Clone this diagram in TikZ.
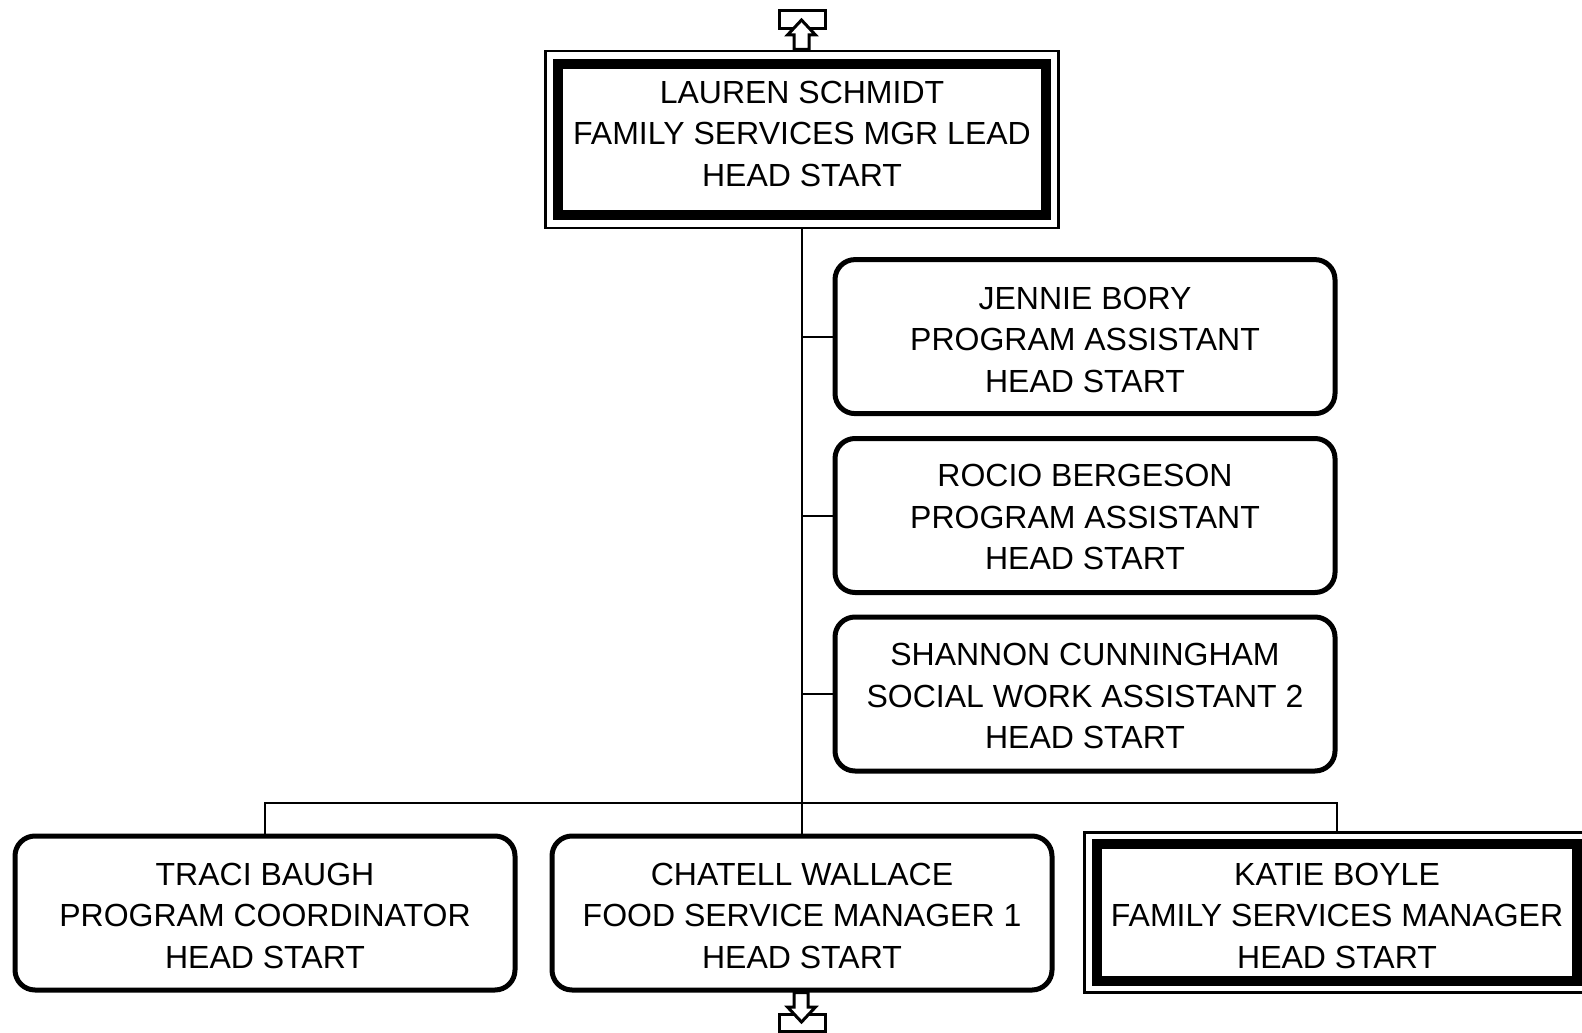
\documentclass[tikz,border=0pt]{standalone}
\usepackage{fontspec}
\setmainfont{Liberation Sans}
\begin{document}
\begin{tikzpicture}[x=1pt,y=-1pt,
  every node/.style={inner sep=0pt, outer sep=0pt},
  txt/.style={font=\fontsize{32}{41.5}\selectfont, align=center},
  person/.style={draw, line width=5pt, rounded corners=20pt, minimum width=500pt, minimum height=154pt},
  leadin/.style={draw, line width=10pt},
  leadout/.style={draw, line width=2.8pt},
  conn/.style={line width=2pt},
  deco/.style={line width=3pt, fill=white, line join=miter}
]
\useasboundingbox (0,0) rectangle (1582,1033);

% top double box
\node[leadout, minimum width=512.5pt, minimum height=177pt] (laurenO) at (802,139.5) {};
\node[leadin, minimum width=487.5pt, minimum height=150.5pt] (lauren) at (802,139.5) {};
\node[txt] (laurenT) at (802,133.7) {LAUREN SCHMIDT\\FAMILY SERVICES MGR LEAD\\HEAD START};

% assistants
\node[person] (jennie) at (1085,336.6) {};
\node[txt] (jennieT) at (1085,339.5) {JENNIE BORY\\PROGRAM ASSISTANT\\HEAD START};
\node[person] (rocio) at (1085,515.5) {};
\node[txt] (rocioT) at (1085,517) {ROCIO BERGESON\\PROGRAM ASSISTANT\\HEAD START};
\node[person] (shannon) at (1085,694) {};
\node[txt] (shannonT) at (1085,696) {SHANNON CUNNINGHAM\\SOCIAL WORK ASSISTANT 2\\HEAD START};

% bottom row
\node[person] (traci) at (265,913) {};
\node[txt] (traciT) at (265,915.5) {TRACI BAUGH\\PROGRAM COORDINATOR\\HEAD START};
\node[person] (chatell) at (802,913) {};
\node[txt] (chatellT) at (802,915.5) {CHATELL WALLACE\\FOOD SERVICE MANAGER 1\\HEAD START};
\node[leadout, minimum width=504.5pt, minimum height=160pt] (katieO) at (1337,912.5) {};
\node[leadin, minimum width=479.5pt, minimum height=137pt] (katie) at (1337,912.5) {};
\node[txt] (katieT) at (1337,915.5) {KATIE BOYLE\\FAMILY SERVICES MANAGER\\HEAD START};

% connectors
\coordinate (busR) at (1337,803);
\draw[conn] (laurenO.south) -- (chatell.north);
\draw[conn] (jennie.west -| laurenO.south) -- (jennie.west);
\draw[conn] (rocio.west -| laurenO.south) -- (rocio.west);
\draw[conn] (shannon.west -| laurenO.south) -- (shannon.west);
\draw[conn] (traci.north) |- (busR) -- (katieO.north);

% off-page arrows
\draw[line width=3pt] (779.5,10.5) rectangle (825.5,28.5);
\draw[deco] (801.5,20) -- (815.5,35) -- (809,35) -- (809,49.5) -- (794,49.5) -- (794,35) -- (787.5,35) -- cycle;
\draw[line width=3pt] (779.5,1014.5) rectangle (825.5,1031.5);
\draw[deco] (801.5,1022) -- (815.5,1007) -- (808,1007) -- (808,992.5) -- (794,992.5) -- (794,1007) -- (787.5,1007) -- cycle;
\end{tikzpicture}
\end{document}
